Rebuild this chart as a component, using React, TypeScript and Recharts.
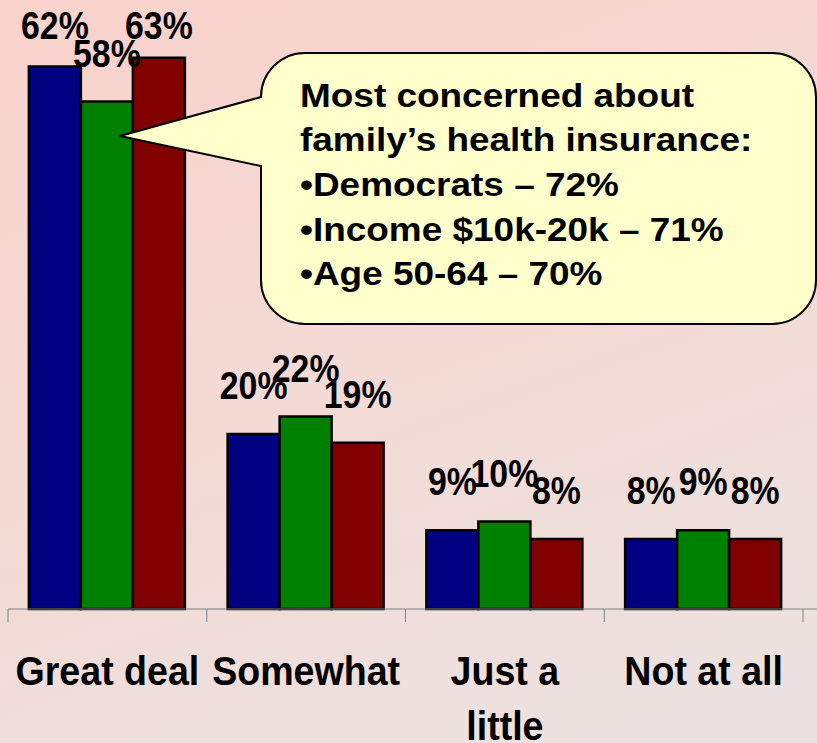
import { BarChart, Bar, XAxis, YAxis, LabelList } from 'recharts';

const categories = ['Great deal', 'Somewhat', 'Just a little', 'Not at all'];
const blueValues = [62, 20, 9, 8];
const greenValues = [58, 22, 10, 9];
const redValues = [63, 19, 8, 8];

const calloutLines = [
  'Most concerned about',
  'family\u2019s health insurance:',
  '\u2022Democrats \u2013 72%',
  '\u2022Income $10k-20k \u2013 71%',
  '\u2022Age 50-64 \u2013 70%',
];

const data = categories.map((name, i) => ({
  name,
  blue: blueValues[i],
  green: greenValues[i],
  red: redValues[i],
}));

const W = 817;
const H = 743;
const MARGIN_LEFT = 8;
const PAD_RIGHT = 14;
const AXIS_H = 134;
const STEP = (W - MARGIN_LEFT - PAD_RIGHT) / categories.length;
const FONT = '"Liberation Sans", Arial, sans-serif';

// greedy wrap, about 10 chars per line at this size
function wrap(s: string, max = 10) {
  const out: string[] = [];
  let cur = '';
  s.split(' ').forEach((w) => {
    const next = cur ? cur + ' ' + w : w;
    if (next.length > max && cur) {
      out.push(cur);
      cur = w;
    } else cur = next;
  });
  if (cur) out.push(cur);
  return out;
}

function CategoryTick(props: any) {
  const { x, y, payload, index } = props;
  const lines = wrap(String(payload.value));
  const left = x - STEP / 2;
  const right = x + STEP / 2;
  return (
    <g>
      <line x1={left} y1={y} x2={left} y2={y + 13} stroke="#808080" strokeWidth={1} />
      {index === categories.length - 1 && (
        <line x1={right} y1={y} x2={right} y2={y + 13} stroke="#808080" strokeWidth={1} />
      )}
      {lines.map((l, i) => (
        <text
          key={i}
          transform={`translate(${x},${y + 76 + i * 55}) scale(0.94,1)`}
          textAnchor="middle"
          fontFamily={FONT}
          fontWeight="bold"
          fontSize={40}
          fill="#000"
        >
          {l}
        </text>
      ))}
    </g>
  );
}

function ValueLabel(props: any) {
  const { x, y, width, value } = props;
  const cx = Number(x) + Number(width) / 2;
  const base = Math.max(Number(y) - 35, 39);
  return (
    <text
      transform={`translate(${cx},${base}) scale(0.89,1)`}
      textAnchor="middle"
      fontFamily={FONT}
      fontWeight="bold"
      fontSize={38}
      fill="#000"
    >
      {value}%
    </text>
  );
}

function Callout() {
  const l = 261, r = 816, t = 53, b = 324, rad = 44;
  const d = [
    `M ${l + rad} ${t}`,
    `H ${r - rad}`,
    `A ${rad} ${rad} 0 0 1 ${r} ${t + rad}`,
    `V ${b - rad}`,
    `A ${rad} ${rad} 0 0 1 ${r - rad} ${b}`,
    `H ${l + rad}`,
    `A ${rad} ${rad} 0 0 1 ${l} ${b - rad}`,
    `V 166`,
    `L 120 136`,
    `L ${l} 97`,
    `V ${t + rad}`,
    `A ${rad} ${rad} 0 0 1 ${l + rad} ${t}`,
    'Z',
  ].join(' ');
  return (
    <svg width={W} height={H} style={{ position: 'absolute', left: 0, top: 0 }}>
      <path d={d} fill="#ffffcc" stroke="#000" strokeWidth={2} />
      {calloutLines.map((line, i) => (
        <text
          key={i}
          transform={`translate(300,${106.5 + i * 44.7}) scale(1.12,1)`}
          fontFamily={FONT}
          fontWeight="bold"
          fontSize={33}
          fill="#000"
        >
          {line}
        </text>
      ))}
    </svg>
  );
}

export default function App() {
  return (
    <div
      style={{
        position: 'absolute',
        left: 0,
        top: 0,
        width: W,
        height: H,
        overflow: 'hidden',
        background: 'linear-gradient(160deg, #f9d2cb 0%, #f3dad5 50%, #ebe3e2 100%)',
      }}
    >
      <BarChart
        width={W}
        height={H}
        data={data}
        margin={{ top: 0, right: 0, left: MARGIN_LEFT, bottom: 0 }}
        barCategoryGap="10.5%"
        barGap={0}
      >
        <XAxis
          dataKey="name"
          height={AXIS_H}
          padding={{ left: 0, right: PAD_RIGHT }}
          axisLine={{ stroke: '#808080', strokeWidth: 1 }}
          tickLine={false}
          tickSize={0}
          tickMargin={0}
          interval={0}
          tick={<CategoryTick />}
        />
        <YAxis hide domain={[0, 69.6]} />
        <Bar dataKey="blue" fill="#000080" stroke="#000" strokeWidth={2.5} isAnimationActive={false}>
          <LabelList dataKey="blue" content={<ValueLabel />} />
        </Bar>
        <Bar dataKey="green" fill="#008000" stroke="#000" strokeWidth={2.5} isAnimationActive={false}>
          <LabelList dataKey="green" content={<ValueLabel />} />
        </Bar>
        <Bar dataKey="red" fill="#800000" stroke="#000" strokeWidth={2.5} isAnimationActive={false}>
          <LabelList dataKey="red" content={<ValueLabel />} />
        </Bar>
      </BarChart>
      <Callout />
    </div>
  );
}
